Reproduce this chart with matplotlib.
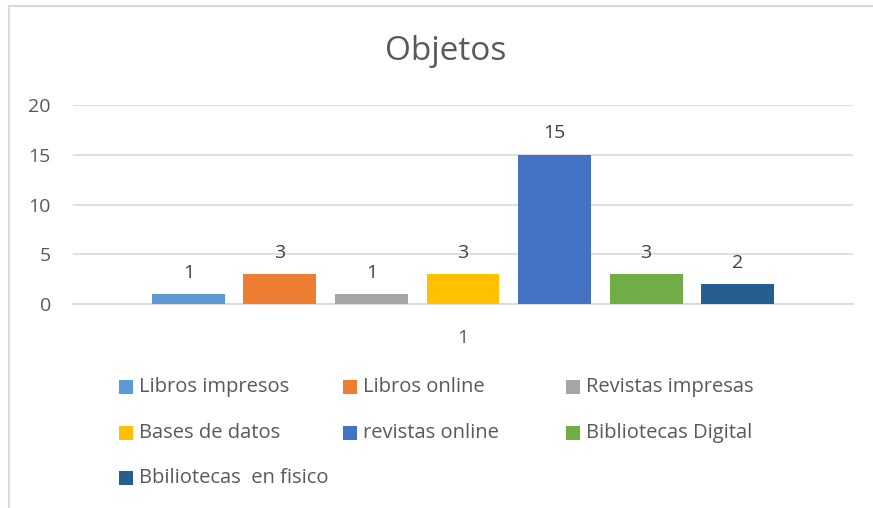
import matplotlib.pyplot as plt
from matplotlib.patches import Rectangle

categorias = ["Libros impresos", "Libros online", "Revistas impresas",
              "Bases de datos", "revistas online", "Bibliotecas Digital",
              "Bbiliotecas  en fisico"]
valores = [1, 3, 1, 3, 15, 3, 2]
colores = ["#5b9bd5", "#ed7d31", "#a5a5a5", "#ffc000", "#4472c4", "#70ad47", "#255e91"]
yticks = [0, 5, 10, 15, 20]
grupo = "1"

plt.rcParams['font.family'] = ['Open Sans', 'DejaVu Sans']
gris = "#595959"

fig = plt.figure(figsize=(8.73, 5.08), dpi=100)
fig.patches.append(Rectangle((9 / 873, -0.05), 1.0, 1 - 6 / 508 + 0.05,
                             transform=fig.transFigure, fill=False,
                             edgecolor="#d9d9d9", linewidth=1.5))

ax = fig.add_axes([73 / 873, 1 - 304 / 508, 780 / 873, 199 / 508])
x = list(range(len(valores)))
ax.bar(x, valores, width=0.796, color=colores, zorder=3)
for xi, v in zip(x, valores):
    ax.text(xi, v + 1.25, str(v), ha="center", va="bottom", fontsize=14, color="#404040")

ax.set_xlim(-1.26, 7.26)
ax.set_ylim(0, 20)
ax.set_yticks(yticks)
ax.set_xticks([3])
ax.set_xticklabels([grupo])
ax.tick_params(axis="both", length=0, labelsize=14, labelcolor=gris)
ax.tick_params(axis="y", pad=16)
ax.tick_params(axis="x", pad=18)
ax.grid(axis="y", color="#d9d9d9", linewidth=1.2, zorder=0)
for s in ["top", "right", "left"]:
    ax.spines[s].set_visible(False)
ax.spines["bottom"].set_color("#d9d9d9")
ax.spines["bottom"].set_linewidth(1.2)

fig.text(446 / 873, 1 - 52 / 508, "Objetos", ha="center", va="center",
         fontsize=24, color=gris)

# leyenda manual, filas de 3
col_x = [119, 343, 566]
fila_y = [387, 433, 478]
for i, (nombre, c) in enumerate(zip(categorias, colores)):
    px = col_x[i % 3]
    py = fila_y[i // 3]
    fig.patches.append(Rectangle((px / 873, 1 - (py + 7) / 508), 14 / 873, 14 / 508,
                                 transform=fig.transFigure, facecolor=c, edgecolor="none"))
    fig.text((px + 20) / 873, 1 - py / 508, nombre, ha="left", va="center",
             fontsize=14.5, color=gris)

fig.savefig("out.png", dpi=100)
